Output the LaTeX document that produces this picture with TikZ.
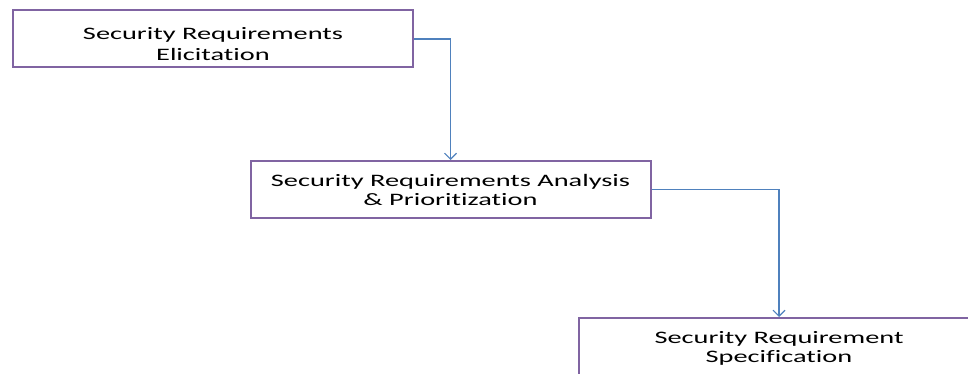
\documentclass[tikz,border=0pt]{standalone}
\usepackage{fontspec}
\usepackage{xcolor}
\usepackage{tikz}
\usetikzlibrary{positioning}
\usetikzlibrary{arrows.meta}
\newfontfamily\boxfont[FakeStretch=1.62,Ligatures=NoCommon]{Carlito}
\definecolor{boxline}{HTML}{8064A2}
\definecolor{linkline}{HTML}{4F81BD}
% two centred lines; the struts set where the text sits in its box
\newcommand{\boxtext}[3][18pt]{\rule{0pt}{#1}#2\\#3\rule[-5pt]{0pt}{5pt}}

\begin{document}
\begin{tikzpicture}[x=1pt,y=-1pt,
  box/.style = {draw=boxline,line width=2pt,fill=white,
        minimum width=400pt,minimum height=57pt,inner sep=0pt,
        align=center,font=\boxfont\fontsize{17.5}{19}\selectfont},
  link/.style = {draw=linkline,line width=1.1pt,
        -{Straight Barb[length=6pt,width=12pt]}}
]
 \useasboundingbox (0,0) rectangle (968,374);
 \node[box,font=\boxfont\fontsize{17.5}{21}\selectfont] at (213,39) (b1)
      {\boxtext[28pt]{Security Requirements}{Elicitation}};
 \node[box, below right=91.5pt and -164.5pt of b1] (b2)
      {\boxtext{Security Requirements Analysis}{\& Prioritization}};
 \node[box, below right=98pt and -73.5pt of b2] (b3)
      {\boxtext{Security Requirement}{Specification}};
 \draw[link] (b1.east) -| (b2.north);
 \draw[link] (b2.east) -| (b3.north);
\end{tikzpicture}
\end{document}
